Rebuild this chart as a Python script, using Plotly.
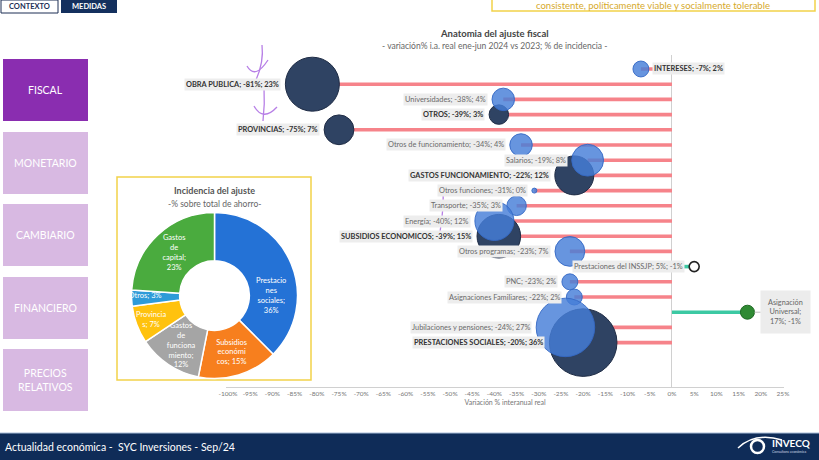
import math
import plotly.graph_objects as go

# ---------------- data ----------------
rubros = ["INTERESES", "OBRA PUBLICA", "Universidades", "OTROS", "PROVINCIAS",
          "Otros de funcionamiento", "Salarios", "GASTOS FUNCIONAMIENTO", "Otros funciones",
          "Transporte", "Energía", "SUBSIDIOS ECONOMICOS", "Otros programas",
          "Prestaciones del INSSJP", "PNC", "Asignaciones Familiares", "Asignación Universal",
          "Jubilaciones y pensiones", "PRESTACIONES SOCIALES"]
variacion = [-7, -81, -38, -39, -75, -34, -19, -22, -31, -35, -40, -39, -23, 5, -23, -22, 17, -24, -20]
incidencia = [2, 23, 4, 3, 7, 4, 8, 12, 0, 3, 12, 15, 7, -1, 2, 2, -1, 27, 36]
totales = ["INTERESES", "OBRA PUBLICA", "OTROS", "PROVINCIAS", "GASTOS FUNCIONAMIENTO",
           "SUBSIDIOS ECONOMICOS", "PRESTACIONES SOCIALES"]

x_ticks = list(range(-100, 30, 5))

pie_labels = ["Prestaciones sociales", "Subsidios económicos", "Gastos de funcionamiento",
              "Provincias", "Otros", "Gastos de capital"]
pie_values = [36, 15, 12, 7, 3, 23]
pie_text = ["Prestacio<br>nes<br>sociales;<br>36%", "Subsidios<br>económi<br>cos; 15%",
            "Gastos<br>de<br>funciona<br>miento;<br>12%", "Provincia<br>s; 7%", "Otros; 3%",
            "Gastos<br>de<br>capital;<br>23%"]

menu = ["FISCAL", "MONETARIO", "CAMBIARIO", "FINANCIERO", "PRECIOS<br>RELATIVOS"]

# ---------------- helpers ----------------
W, H = 819, 460
FONT = "Lato"
def px(x): return x / W
def py(y): return 1 - y / H

dark_set = [n for n in totales if n != "INTERESES"]
def diam(v):
    return max(54 * math.sqrt(abs(v) / 23), 5)

n = len(rubros)
idx = list(range(n))

fig = go.Figure()

# lollipop lines
for color, cond in [("#f6838a", lambda v: v < 0), ("#3cc9a3", lambda v: v > 0)]:
    xs, ys = [], []
    for i in idx:
        if cond(variacion[i]):
            xs += [variacion[i], 0, None]
            ys += [i, i, None]
    fig.add_trace(go.Scatter(x=xs, y=ys, mode="lines", line=dict(color=color, width=3.6),
                             hoverinfo="skip", showlegend=False))

# dark bubbles (totals)
dk = [i for i in idx if rubros[i] in dark_set]
fig.add_trace(go.Scatter(x=[variacion[i] for i in dk], y=dk, mode="markers",
                         marker=dict(size=[diam(incidencia[i]) for i in dk], sizemode="diameter",
                                     opacity=1, color="#2f4363", line=dict(color="#1f2c45", width=1)),
                         showlegend=False, hoverinfo="skip"))
# blue bubbles (negative variation, sub items)
bl = [i for i in idx if rubros[i] not in dark_set and variacion[i] < 0]
fig.add_trace(go.Scatter(x=[variacion[i] for i in bl], y=bl, mode="markers",
                         marker=dict(size=[diam(incidencia[i]) for i in bl], sizemode="diameter",
                                     opacity=1, color="rgba(70,126,216,0.82)",
                                     line=dict(color="rgba(52,104,196,0.9)", width=1)),
                         showlegend=False, hoverinfo="skip"))
# positive variation items
i_inssjp = rubros.index("Prestaciones del INSSJP")
i_au = rubros.index("Asignación Universal")
fig.add_trace(go.Scatter(x=[variacion[i_inssjp]], y=[i_inssjp], mode="markers",
                         marker=dict(size=10, color="white", opacity=1, line=dict(color="#222", width=1.6)),
                         showlegend=False, hoverinfo="skip"))
fig.add_trace(go.Scatter(x=[variacion[i_au]], y=[i_au], mode="markers",
                         marker=dict(size=14, color="#2f8a33", opacity=1, line=dict(color="#1f6a24", width=1)),
                         showlegend=False, hoverinfo="skip"))

ann = []
for i in idx:
    name = rubros[i]
    txt = f"{name}; {variacion[i]}%; {incidencia[i]}%"
    bold = name in totales
    r = diam(incidencia[i]) / 2 if variacion[i] < 0 else 5
    if name == "Asignación Universal":
        ann.append(dict(x=variacion[i], y=i, xref="x", yref="y",
                        text="Asignación<br>Universal;<br>" + f"{variacion[i]}%; {incidencia[i]}%",
                        showarrow=True, ax=38, ay=0, arrowhead=0, arrowcolor="#bbbbbb",
                        arrowwidth=1, standoff=7, bgcolor="#ececec", borderpad=7,
                        font=dict(family=FONT, size=7.3, color="#666")))
        continue
    if name == "INTERESES":
        xa, xs = "left", r + 3
    else:
        xa, xs = "right", -(r + 4)
    ann.append(dict(x=variacion[i], y=i, xref="x", yref="y", xanchor=xa, yanchor="middle",
                    xshift=xs, showarrow=False, bgcolor="#ededed", borderpad=1,
                    text=f"<b>{txt}</b>" if bold else txt,
                    font=dict(family=FONT, size=7.4, color="#333" if bold else "#6a6a6a")))

# pie
fig.add_trace(go.Pie(labels=pie_labels, values=pie_values, text=pie_text, textinfo="text",
                     hole=0.42, sort=False, direction="clockwise", rotation=0,
                     marker=dict(colors=["#2472d6", "#f77f1e", "#a5a5a5", "#ffc20e", "#2e9bd8", "#4aab3e"],
                                 line=dict(color="white", width=1.5)),
                     textposition="inside", insidetextorientation="horizontal",
                     textfont=dict(family=FONT, size=7.5, color="white"),
                     domain=dict(x=[px(131.5), px(297.5)], y=[py(378.5), py(212.5)]),
                     showlegend=False, hoverinfo="skip"))

shapes = []
def rect(x0, y0, x1, y1, fill, line=None, lw=0):
    shapes.append(dict(type="rect", xref="paper", yref="paper", x0=px(x0), x1=px(x1),
                       y0=py(y1), y1=py(y0), fillcolor=fill, layer="below",
                       line=dict(color=line or fill, width=lw)))
def text(x, y, t, size, color, xa="center", bold=False):
    ann.append(dict(x=px(x), y=py(y), xref="paper", yref="paper", xanchor=xa, yanchor="middle",
                    showarrow=False, text=f"<b>{t}</b>" if bold else t,
                    font=dict(family=FONT, size=size, color=color)))

# header
rect(1, 0, 58, 13, "white", "#1c2f55", 1)
text(29.5, 6.5, "CONTEXTO", 7.5, "#1c2f55", bold=True)
rect(61, 0, 117, 13, "#14305e")
text(89, 6.5, "MEDIDAS", 7.5, "white", bold=True)
rect(492, -8, 815, 11, "rgba(0,0,0,0)", "#f2d24a", 1.5)
text(653, 5, "consistente, políticamente viable y socialmente tolerable", 9.5, "#d6a92a")

# titles
text(495, 33, "Anatomia del ajuste fiscal", 9.5, "#444", bold=True)
text(495, 46, "- variación% i.a. real ene-jun 2024 vs 2023; % de incidencia -", 8.5, "#666")

# side menu
tops = [59, 132, 204, 277, 349]
for k, (lab, t) in enumerate(zip(menu, tops)):
    rect(3, t, 88, t + 62, "#8a2db0" if k == 0 else "#d8b9e2")
    text(45.5, t + 31, lab, 10.5, "white")

# donut box
rect(117, 177, 311, 380, "rgba(0,0,0,0)", "#f2d24a", 1.5)
text(214, 191, "Incidencia del ajuste", 9, "#555", bold=True)
text(214, 204, "-% sobre total de ahorro-", 8.5, "#666")

# footer
rect(0, 433, 819, 460, "#0f2c58")
shapes.append(dict(type="line", xref="paper", yref="paper", x0=0, x1=1, y0=py(433), y1=py(433),
                   line=dict(color="#a9bdd8", width=1)))
text(3, 446.5, "Actualidad económica -  SYC Inversiones - Sep/24", 10.5, "white", xa="left")
text(770, 443, "INVECQ", 10, "white", xa="left", bold=True)
text(770, 452, "Consultora económica", 3.5, "#cfd8e6", xa="left")
shapes.append(dict(type="circle", xref="paper", yref="paper", x0=px(751), x1=px(764),
                   y0=py(453), y1=py(440), line=dict(color="white", width=2.5)))
shapes.append(dict(type="path", xref="paper", yref="paper",
                   path=f"M {px(738)} {py(448)} Q {px(755)} {py(432)} {px(782)} {py(440)}",
                   line=dict(color="white", width=1.5)))

# hand-drawn purple marks
purple = "#b77fe6"
for p in [[(262, 45), (264, 62), (256, 80)], [(247, 66), (255, 80), (268, 60)],
          [(264, 86), (265, 104), (263, 121)], [(254, 106), (263, 122), (277, 107)],
          [(443, 188), (444, 208), (440, 232)], [(434, 218), (440, 232), (449, 216)],
          [(452, 236), (458, 241), (468, 238)]]:
    (x0, y0), (x1, y1), (x2, y2) = p
    shapes.append(dict(type="path", xref="paper", yref="paper",
                       path=f"M {px(x0)} {py(y0)} Q {px(x1)} {py(y1)} {px(x2)} {py(y2)}",
                       line=dict(color=purple, width=1.3)))

fig.update_layout(
    width=W, height=H, margin=dict(l=0, r=0, t=0, b=0),
    paper_bgcolor="white", plot_bgcolor="white",
    shapes=shapes, annotations=ann, showlegend=False,
    font=dict(family=FONT),
    uniformtext=dict(minsize=6.5, mode="show"),
    xaxis=dict(domain=[px(225.8), px(784.3)], range=[-100.5, 25.3],
               tickvals=x_ticks, ticktext=[f"{v}%" for v in x_ticks],
               tickfont=dict(family=FONT, size=6.5, color="#777"),
               showgrid=False, zeroline=True, zerolinecolor="#d0d0d0", zerolinewidth=1,
               showline=True, linecolor="#d0d0d0", linewidth=1, ticks="",
               title=dict(text="Variación % interanual real", font=dict(family=FONT, size=7, color="#777"),
                          standoff=4),
               automargin=False, fixedrange=True),
    yaxis=dict(domain=[py(387), py(55)], range=[20.92, -0.92], visible=False,
               automargin=False, fixedrange=True),
)

fig.write_html("out.html")
